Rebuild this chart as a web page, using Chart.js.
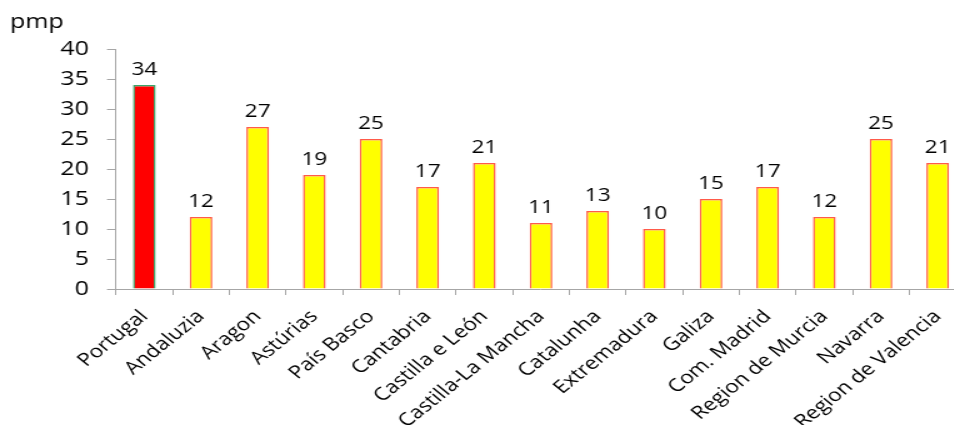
<!DOCTYPE html>
<html>
<head>
<meta charset="utf-8">
<script src="https://cdn.jsdelivr.net/npm/chart.js@4/dist/chart.umd.min.js"></script>
<style>
  html, body { margin: 0; padding: 0; background: #fff; overflow: hidden; width: 954px; height: 425px; }
  #wrap { width: 780px; height: 425px; transform: scaleX(1.25); transform-origin: 0 0; }
  canvas { display: block; }
</style>
</head>
<body>
<div id="wrap"><canvas id="chart" width="780" height="425" style="width:780px;height:425px"></canvas></div>
<script>
// Regions and their values (pmp)
const regions = [
  'Portugal', 'Andaluzia', 'Aragon', 'Astúrias', 'País Basco', 'Cantabria',
  'Castilla e León', 'Castilla-La Mancha', 'Catalunha', 'Extremadura', 'Galiza',
  'Com. Madrid', 'Region de Murcia', 'Navarra', 'Region de Valencia'
];
const values = [34, 12, 27, 19, 25, 17, 21, 11, 13, 10, 15, 17, 12, 25, 21];
const yTicks = [0, 5, 10, 15, 20, 25, 30, 35, 40];
const unitLabel = 'pmp';

const FONT = '"Open Sans", Lato, sans-serif';
const AXIS_GRAY = '#a6a6a6';

// Portugal highlighted in red, Spanish regions in yellow
const fills = regions.map((r, i) => i === 0 ? '#ff0000' : '#ffff00');
const borders = regions.map((r, i) => i === 0 ? '#3aa56a' : '#ff5a4a');

const valueLabels = {
  id: 'valueLabels',
  afterDatasetsDraw(chart) {
    const ctx = chart.ctx;
    const meta = chart.getDatasetMeta(0);
    ctx.save();
    ctx.font = '18px ' + FONT;
    ctx.fillStyle = '#000';
    ctx.textAlign = 'center';
    ctx.textBaseline = 'alphabetic';
    meta.data.forEach((bar, i) => {
      ctx.fillText(String(values[i]), bar.x, bar.y - 10);
    });
    ctx.restore();
  }
};

const unitTitle = {
  id: 'unitTitle',
  afterDraw(chart) {
    const ctx = chart.ctx;
    ctx.save();
    ctx.font = '20px ' + FONT;
    ctx.fillStyle = '#000';
    ctx.textAlign = 'left';
    ctx.textBaseline = 'alphabetic';
    ctx.fillText(unitLabel, 8, 28);
    ctx.restore();
  }
};

new Chart(document.getElementById('chart'), {
  type: 'bar',
  data: {
    labels: regions,
    datasets: [{
      data: values,
      backgroundColor: fills,
      borderColor: borders,
      borderWidth: 1.5,
      barPercentage: 0.4,
      categoryPercentage: 1.0
    }]
  },
  options: {
    responsive: false,
    animation: false,
    devicePixelRatio: 1,
    layout: { padding: { top: 49, right: 7.2, bottom: 0, left: 0 } },
    plugins: {
      legend: { display: false },
      tooltip: { enabled: false },
      title: { display: false }
    },
    scales: {
      x: {
        grid: { display: true, drawOnChartArea: false, offset: true, tickLength: 6, color: AXIS_GRAY },
        border: { color: AXIS_GRAY, width: 1 },
        ticks: {
          autoSkip: false, minRotation: 45, maxRotation: 45, padding: 11,
          color: '#000', font: { family: FONT, size: 18 }
        },
        afterFit(scale) { scale.height = 136; }
      },
      y: {
        min: 0, max: 40,
        grid: { display: true, drawOnChartArea: false, tickLength: 7.2, color: AXIS_GRAY },
        border: { color: AXIS_GRAY, width: 1 },
        ticks: {
          stepSize: 5, padding: 14.4, color: '#000',
          font: { family: FONT, size: 20 },
          callback: (v) => yTicks.includes(v) ? String(v) : ''
        },
        afterFit(scale) { scale.width = 92.8; }
      }
    }
  },
  plugins: [valueLabels, unitTitle]
});
</script>
</body>
</html>
